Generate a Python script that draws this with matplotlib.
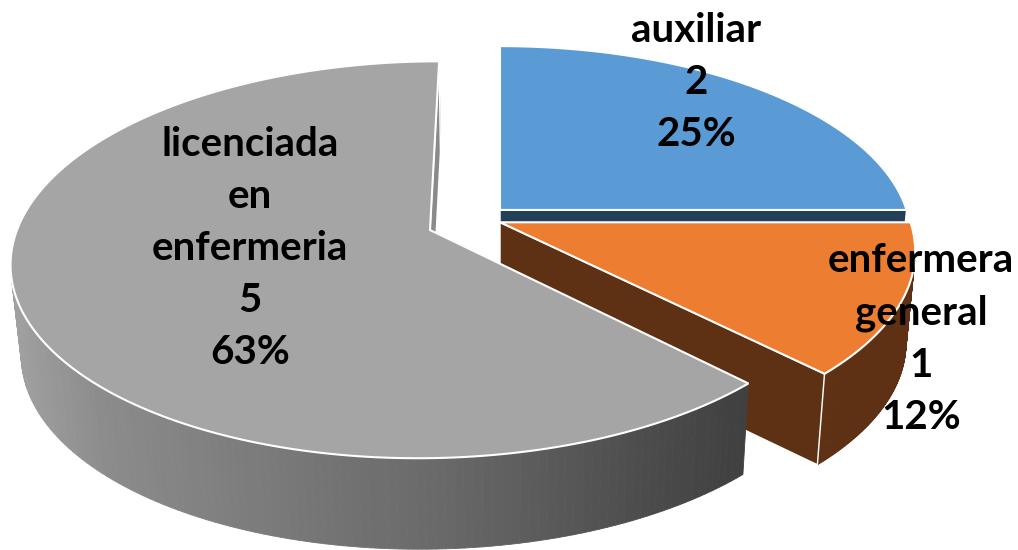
import numpy as np
import matplotlib
matplotlib.use('Agg')
import matplotlib.pyplot as plt
from matplotlib.colors import LinearSegmentedColormap
from matplotlib.patches import Polygon
from matplotlib.collections import PolyCollection

# Chart data
categories = ['auxiliar', 'enfermera\ngeneral', 'licenciada\nen\nenfermeria']
counts = [2, 1, 5]
percents = ['25%', '12%', '63%']

# Look of each slice
top_colors = ['#5b9bd5', '#ec7d31', '#a5a5a5']
inner_colors = ['#243f58', '#5f3114', '#8a8a8a']
explode_x = [0, 0, -70]
explode_v = [-0.105, -0.04, 0.0]
label_pos = [(696, 82), (921, 339), (250, 249)]

# Fake 3D camera, pixels
CX, CY = 500, 230
RX, RY = 413, 194
PERSP = 0.15
DEPTH = 91
SHRINK = 0.978
EDGE = 1.5

gray_wall = LinearSegmentedColormap.from_list('gray_wall', [
	(0.0, '#a0a0a0'), (0.12, '#8c8c8c'), (0.3, '#7e7e7e'),
	(0.6, '#686868'), (0.85, '#4e4e4e'), (1.0, '#404040')])


def project(x, v):
	w = 1 - PERSP * v
	return CX + x / w, CY + RY * v / w


def rim(theta, i):
	x = explode_x[i] + RX * np.sin(theta)
	v = explode_v[i] - np.cos(theta)
	return np.column_stack(project(x, v))


def apex(i):
	return np.array(project(explode_x[i], explode_v[i]))


def lower(pts):
	pts = np.atleast_2d(pts)
	return np.column_stack([CX + (pts[:, 0] - CX) * SHRINK, pts[:, 1] + DEPTH])


def top_face(ax, theta, i):
	pts = np.vstack([apex(i), rim(theta, i)])
	ax.add_patch(Polygon(pts, closed=True, facecolor=top_colors[i],
		edgecolor='white', linewidth=EDGE, joinstyle='miter'))


def side_face(ax, theta0, i):
	a = apex(i)
	r = rim(np.array([theta0]), i)[0]
	pts = np.vstack([a, r, lower(r), lower(a)])
	ax.add_patch(Polygon(pts, closed=True, facecolor=inner_colors[i],
		edgecolor='white', linewidth=EDGE * 0.7))


def outer_wall(ax, theta, i, cmap=None):
	up = rim(theta, i)
	down = lower(up)
	quads = [[up[k], up[k + 1], down[k + 1], down[k]] for k in range(len(theta) - 1)]
	if cmap is None:
		colors = inner_colors[i]
	else:
		mids = up[:-1, 0]
		colors = cmap((mids - mids.min()) / (mids.max() - mids.min()))
	ax.add_collection(PolyCollection(quads, facecolors=colors, edgecolors=colors, linewidths=0.6))


def main():
	fig = plt.figure(figsize=(10.18, 5.5), dpi=100)
	ax = fig.add_axes([0, 0, 1, 1])
	ax.set_xlim(0, 1018)
	ax.set_ylim(550, 0)
	ax.axis('off')

	# Slice angles, clockwise from 12 o'clock
	edges = np.cumsum([0] + counts) / sum(counts) * 2 * np.pi
	arcs = [np.linspace(edges[i], edges[i + 1], 200) for i in range(3)]

	# Blue
	side_face(ax, arcs[0][-1], 0)
	top_face(ax, arcs[0], 0)

	# Orange
	outer_wall(ax, arcs[1], 1)
	side_face(ax, arcs[1][-1], 1)
	top_face(ax, arcs[1], 1)

	# Gray
	outer_wall(ax, arcs[2], 2, gray_wall)
	side_face(ax, arcs[2][-1], 2)
	top_face(ax, arcs[2], 2)

	for i in range(3):
		txt = '%s\n%d\n%s' % (categories[i], counts[i], percents[i])
		ax.text(label_pos[i][0], label_pos[i][1], txt, ha='center', va='center',
			family='Lato', weight='bold', fontsize=29, linespacing=1.5, color='black')

	fig.savefig('out.png', dpi=100)


if __name__ == '__main__':
	main()
